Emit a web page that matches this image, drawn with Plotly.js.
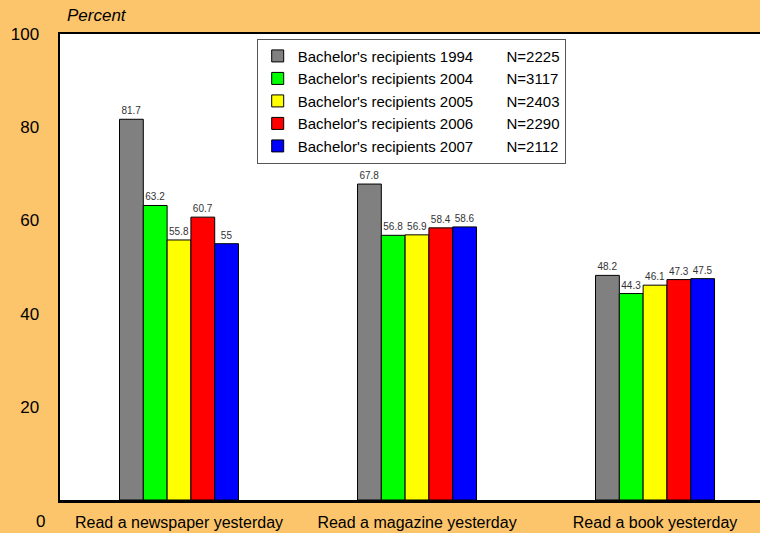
<!DOCTYPE html>
<html>
<head>
<meta charset="utf-8">
<script src="https://cdn.plot.ly/plotly-3.0.1.min.js"></script>
<style>html,body{margin:0;padding:0;background:#FDC56B;overflow:hidden}</style>
</head>
<body>
<div id="chart" style="width:760px;height:533px"></div>
<script>
const categories = ["Read a newspaper yesterday", "Read a magazine yesterday", "Read a book yesterday"];
const seriesNames = ["Bachelor's recipients 1994", "Bachelor's recipients 2004", "Bachelor's recipients 2005", "Bachelor's recipients 2006", "Bachelor's recipients 2007"];
const seriesN = ["N=2225", "N=3117", "N=2403", "N=2290", "N=2112"];
const values1994 = [81.7, 67.8, 48.2];
const values2004 = [63.2, 56.8, 44.3];
const values2005 = [55.8, 56.9, 46.1];
const values2006 = [60.7, 58.4, 47.3];
const values2007 = [55, 58.6, 47.5];
const seriesValues = [values1994, values2004, values2005, values2006, values2007];
const colors = ["#808080", "#00FF00", "#FFFF00", "#FF0000", "#0000FF"];
const yTicks = [20, 40, 60, 80, 100];

const gap = "\u00A0".repeat(8);
const traces = seriesNames.map((name, i) => ({
  type: "bar",
  x: [0, 1, 2],
  y: seriesValues[i],
  name: name + gap + seriesN[i],
  legendgroup: "g" + i,
  marker: {color: colors[i], line: {color: "#000", width: 1}},
  text: seriesValues[i].map(v => String(v)),
  textposition: "outside",
  textfont: {family: "Liberation Sans, Arial, sans-serif", size: 10, color: "#333"},
  constraintext: "none",
  cliponaxis: false,
  hoverinfo: "none"
}));

const layout = {
  width: 760, height: 533,
  paper_bgcolor: "#FDC56B",
  plot_bgcolor: "#FFFFFF",
  margin: {l: 60, r: 0, t: 34, b: 33, pad: 0},
  barmode: "group",
  bargap: 0.5,
  bargroupgap: 0,
  font: {family: "Liberation Sans, Arial, sans-serif", color: "#000"},
  xaxis: {
    range: [-0.5, 2.441],
    tickmode: "array",
    tickvals: [0, 1, 2],
    ticktext: categories,
    tickfont: {size: 16},
    showline: true, linecolor: "#000", linewidth: 2.5, mirror: true,
    showgrid: false, zeroline: false, ticks: "", ticklen: 0,
    ticklabelstandoff: 6
  },
  yaxis: {
    range: [0, 100],
    tickmode: "array",
    tickvals: yTicks,
    ticktext: yTicks.map(String),
    tickfont: {size: 17},
    showline: true, linecolor: "#000", linewidth: 2.5,
    showgrid: false, zeroline: false, ticks: "", ticklabelstandoff: 15
  },
  legend: {
    x: 0.281, y: 0.99, xanchor: "left", yanchor: "top",
    bgcolor: "#FFFFFF", bordercolor: "#555", borderwidth: 1,
    font: {size: 15, color: "#000"},
    traceorder: "grouped", tracegroupgap: 0,
    itemclick: false
  },
  annotations: [{
    text: "<i>Percent</i>", xref: "paper", yref: "paper",
    x: 0.007, y: 1, xanchor: "left", yanchor: "bottom", yshift: 7,
    showarrow: false, font: {size: 17, color: "#000"}
  }, {
    text: "0", xref: "paper", yref: "y",
    x: 0, y: 0, xanchor: "right", yanchor: "middle", xshift: -13, yshift: -21,
    showarrow: false, font: {size: 17, color: "#000"}
  }],
  showlegend: true
};

Plotly.newPlot("chart", traces, layout, {displayModeBar: false, staticPlot: true});
</script>
</body>
</html>
